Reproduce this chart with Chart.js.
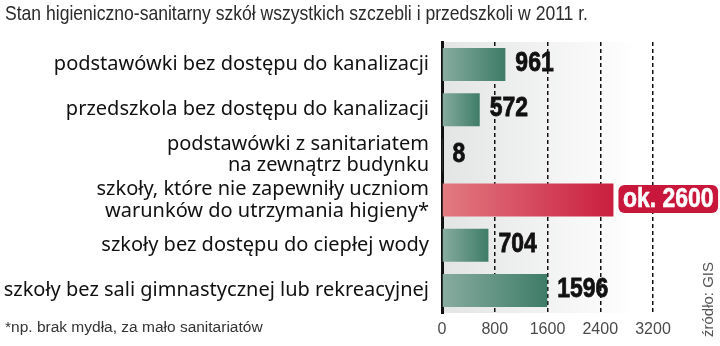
<!DOCTYPE html>
<html>
<head>
<meta charset="utf-8">
<script src="https://cdn.jsdelivr.net/npm/chart.js@4.4.1/dist/chart.umd.min.js"></script>
<style>
  html, body { margin: 0; padding: 0; background: #fff; }
  #wrap { position: relative; width: 720px; height: 346px; }
</style>
</head>
<body>
<div id="wrap"><canvas id="hygieneChart" width="720" height="346"></canvas></div>
<script>
const categories = [
  'podstawówki bez dostępu do kanalizacji',
  'przedszkola bez dostępu do kanalizacji',
  ['podstawówki z sanitariatem', 'na zewnątrz budynku'],
  ['szkoły, które nie zapewniły uczniom', 'warunków do utrzymania higieny*'],
  'szkoły bez dostępu do ciepłej wody',
  'szkoły bez sali gimnastycznej lub rekreacyjnej'
];
const counts = [961, 572, 8, 2600, 704, 1596];
const valueLabels = ['961', '572', '8', 'ok. 2600', '704', '1596'];
const highlighted = [false, false, false, true, false, false];
const xTicks = [0, 800, 1600, 2400, 3200];

const titleText = 'Stan higieniczno-sanitarny szkół wszystkich szczebli i przedszkoli w 2011 r.';
const footnoteText = '*np. brak mydła, za mało sanitariatów';
const sourceText = 'źródło: GIS';

const SANS = '"Liberation Sans", Arial, sans-serif';

// no narrow face installed, so squeeze the regular one horizontally
function condensedText(ctx, text, x, y, squeeze, align, heavy) {
  ctx.save();
  ctx.translate(x, y);
  ctx.scale(squeeze, 1);
  ctx.textAlign = align || 'left';
  ctx.fillText(text, 0, 0);
  if (heavy) {
    ctx.strokeStyle = ctx.fillStyle;
    ctx.lineWidth = heavy;
    ctx.strokeText(text, 0, 0);
  }
  ctx.restore();
}

// each bar fades from a pale tint at zero to the full colour at its end
function barFill(context) {
  const chart = context.chart;
  const xScale = chart.scales.x;
  if (!chart.chartArea || !xScale) return '#3b7b67';
  const i = context.dataIndex;
  const x0 = xScale.getPixelForValue(0);
  const x1 = Math.max(xScale.getPixelForValue(counts[i]), x0 + 1);
  const g = chart.ctx.createLinearGradient(x0, 0, x1, 0);
  if (highlighted[i]) {
    g.addColorStop(0, '#e27b82');
    g.addColorStop(1, '#ca1e3f');
  } else {
    g.addColorStop(0, '#87ac9f');
    g.addColorStop(1, '#3e7c68');
  }
  return g;
}

const decorations = {
  id: 'decorations',
  beforeDraw(chart) {
    const { ctx, chartArea: a } = chart;
    ctx.save();
    ctx.fillStyle = '#2b2b2b';
    ctx.font = '21px ' + SANS;
    ctx.textBaseline = 'middle';
    const squeeze = 583 / ctx.measureText(titleText).width;
    condensedText(ctx, titleText, 5, 14, squeeze);

    // soft grey panel behind the bars
    const w = 195;
    const g = ctx.createLinearGradient(a.left, 0, a.left + w, 0);
    g.addColorStop(0, '#e3e4e4');
    g.addColorStop(1, '#ffffff');
    ctx.fillStyle = g;
    ctx.fillRect(a.left, a.top, w, a.bottom - a.top);
    ctx.restore();
  },
  afterDatasetsDraw(chart) {
    const { ctx } = chart;
    const bars = chart.getDatasetMeta(0).data;
    ctx.save();
    ctx.font = 'bold 28px ' + SANS;
    ctx.textBaseline = 'middle';
    ctx.fillStyle = '#111';
    bars.forEach((bar, i) => {
      if (highlighted[i]) return;
      condensedText(ctx, valueLabels[i], bar.x + 10, bar.y - 1, 0.82, 'left', 0.8);
    });
    ctx.restore();
  },
  afterDraw(chart) {
    const { ctx } = chart;
    const bars = chart.getDatasetMeta(0).data;
    ctx.save();
    // badge for the estimated value
    ctx.font = 'bold 28px ' + SANS;
    ctx.textBaseline = 'middle';
    bars.forEach((bar, i) => {
      if (!highlighted[i]) return;
      const tw = ctx.measureText(valueLabels[i]).width * 0.82;
      const bx = bar.x + 5, bw = tw + 9, bh = 28, by = bar.y - bh / 2 - 1;
      ctx.fillStyle = '#c8173b';
      ctx.beginPath();
      ctx.roundRect(bx, by, bw, bh, 6);
      ctx.fill();
      ctx.fillStyle = '#fff';
      condensedText(ctx, valueLabels[i], bx + bw / 2, bar.y - 1, 0.82, 'center', 0.6);
    });

    ctx.fillStyle = '#333';
    ctx.textAlign = 'left';
    ctx.font = '15.5px ' + SANS;
    ctx.fillText(footnoteText, 5, 328);

    ctx.fillStyle = '#555';
    ctx.font = '15px ' + SANS;
    ctx.translate(709, 337);
    ctx.rotate(-Math.PI / 2);
    ctx.fillText(sourceText, 0, 0);
    ctx.restore();
  }
};

new Chart(document.getElementById('hygieneChart'), {
  type: 'bar',
  data: {
    labels: categories,
    datasets: [{
      data: counts,
      backgroundColor: barFill,
      borderWidth: 0,
      categoryPercentage: 1,
      barPercentage: 0.73
    }]
  },
  options: {
    indexAxis: 'y',
    responsive: false,
    animation: false,
    layout: { padding: { top: 42, right: 67, bottom: 0, left: 0 } },
    plugins: {
      legend: { display: false },
      tooltip: { enabled: false }
    },
    scales: {
      x: {
        min: 0,
        max: 3200,
        z: 1,
        afterBuildTicks(scale) {
          scale.ticks = xTicks.map(v => ({ value: v }));
        },
        afterFit(scale) { scale.height = 33; },
        ticks: {
          color: '#4a4a4a',
          padding: 7,
          callback: v => String(v),
          font: { family: SANS, size: 16 }
        },
        grid: {
          drawTicks: false,
          color: ctx => (ctx.tick && ctx.tick.value === 0 ? 'rgba(0,0,0,0)' : '#111'),
          lineWidth: 1.5
        },
        border: { display: false, dash: [4, 3] }
      },
      y: {
        afterFit(scale) { scale.width = 442; },
        grid: { display: false },
        border: { display: true, color: '#111', width: 3 },
        ticks: {
          color: '#111',
          padding: 5,
          autoSkip: false,
          font: { family: '"Noto Sans", sans-serif', size: 20, lineHeight: 1.08 }
        }
      }
    }
  },
  plugins: [decorations]
});
</script>
</body>
</html>
